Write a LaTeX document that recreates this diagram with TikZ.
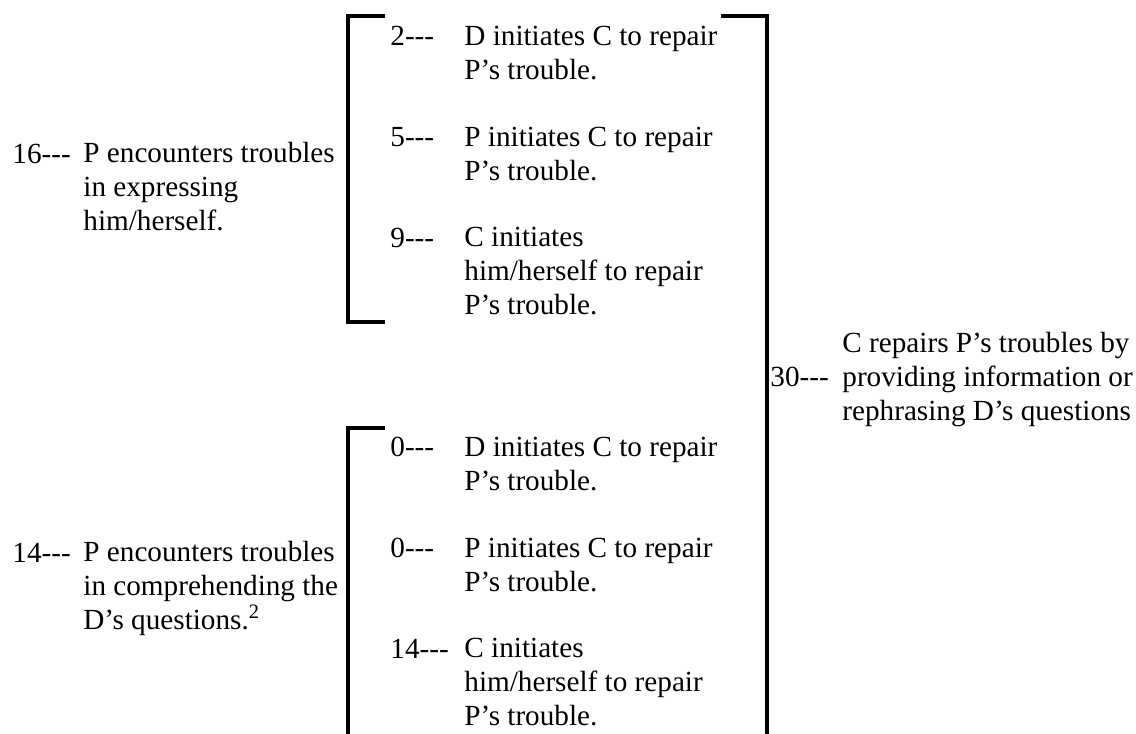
\documentclass[tikz,border=0pt]{standalone}
\usepackage{fontspec}
\setmainfont{Liberation Serif}[Ligatures=TeXOff]
\usetikzlibrary{positioning}

\tikzset{
  num/.style={anchor=base west, inner sep=0pt},
  item/.style={anchor=base west, inner sep=0pt, align=left},
  brace/.style={line width=2pt, line join=miter}
}

\begin{document}
\begin{tikzpicture}[x=0.5pt, y=-0.5pt, font=\fontsize{14.6}{16.85}\selectfont]
\useasboundingbox (0,0) rectangle (1136,734);

  % brackets
  \draw  [brace] (385,16) -- (348,16) -- (348,322) -- (385,322);
  \draw  [brace] (721,16) -- (767,16) -- (767,734);
  \draw  [brace] (385,428) -- (348,428) -- (348,734);

  % left column (items sit on the baseline of their last line)
  \node  [num] (n16) at (12,163) {16---};
  \node  [item] (t16) at (83,230) {P encounters troubles\\in expressing\\him/herself.};
  \node  [num] (n14) at (12,562) {14---};
  \node  [item] (t14) at (83,629) {P encounters troubles\\in comprehending the\\D’s questions.\textsuperscript{2}};

  % upper bracket
  \node  [num] (na) at (390,45) {2---};
  \node  [item] (ta) at (464,79) {D initiates C to repair\\P’s trouble.};
  \node  [num] (nb) at (390,146) {5---};
  \node  [item] (tb) at (464,180) {P initiates C to repair\\P’s trouble.};
  \node  [num] (nc) at (390,247) {9---};
  \node  [item] (tc) at (464,314) {C initiates\\him/herself to repair\\P’s trouble.};

  % lower bracket
  \node  [num] (nd) at (390,456) {0---};
  \node  [item] (td) at (464,490) {D initiates C to repair\\P’s trouble.};
  \node  [num] (ne) at (390,557) {0---};
  \node  [item] (te) at (464,591) {P initiates C to repair\\P’s trouble.};
  \node  [num] (nf) at (390,658) {14---};
  \node  [item] (tf) at (464,725) {C initiates\\him/herself to repair\\P’s trouble.};

  % right column
  \node  [num] (n30) at (770,386) {30---};
  \node  [item] (t30) at (842,420) {C repairs P’s troubles by\\providing information or\\rephrasing D’s questions};
\end{tikzpicture}
\end{document}
